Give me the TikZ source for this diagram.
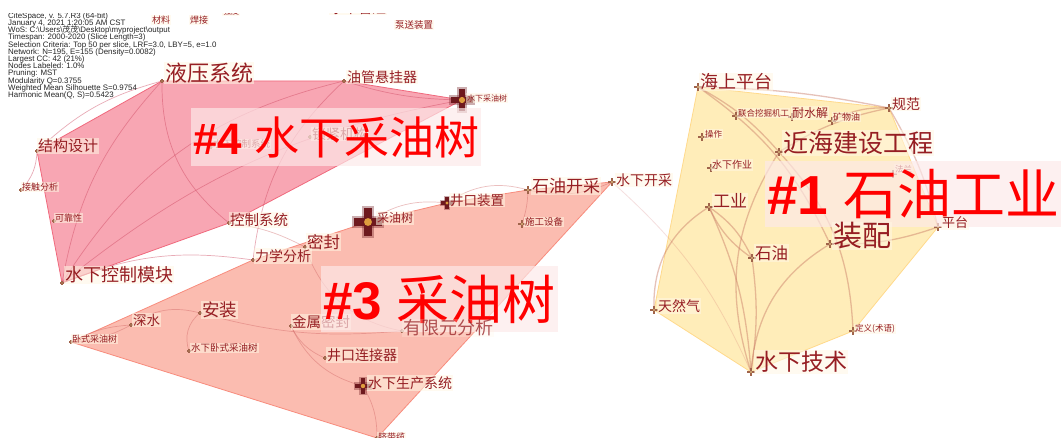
\documentclass[tikz,border=0pt]{standalone}
\usepackage{fontspec}
\setmainfont{Liberation Sans}
\newfontfamily\cjk{Noto Sans CJK SC}
\definecolor{cfourf}{RGB}{248,162,175}
\definecolor{cfourl}{RGB}{240,105,125}
\definecolor{cthreef}{RGB}{251,188,176}
\definecolor{cthreel}{RGB}{248,140,125}
\definecolor{conef}{RGB}{255,237,185}
\definecolor{conel}{RGB}{255,218,140}
\definecolor{efour}{RGB}{205,70,95}
\definecolor{ethree}{RGB}{205,95,95}
\definecolor{eone}{RGB}{200,120,100}
\definecolor{lblc}{RGB}{150,30,35}
\definecolor{lblbg}{RGB}{255,247,228}
\definecolor{clbg}{RGB}{253,233,233}
\definecolor{mkc}{RGB}{160,100,75}
\definecolor{mkin}{RGB}{240,215,140}
\definecolor{bigc}{RGB}{110,25,30}
\definecolor{bigin}{RGB}{250,190,70}
\tikzset{
  pics/nmk/.style={code={
    \fill[mkc] (-#1,-#1*0.32) rectangle (#1,#1*0.32);
    \fill[mkc] (-#1*0.32,-#1) rectangle (#1*0.32,#1);
    \fill[mkin] (0,0) circle (#1*0.22);
  }},
  pics/bigmk/.style={code={
    \fill[bigc, opacity=.35] (-#1*1.15,-#1*0.45) rectangle (#1*1.15,#1*0.45);
    \fill[bigc, opacity=.35] (-#1*0.45,-#1*1.15) rectangle (#1*0.45,#1*1.15);
    \fill[bigc] (-#1,-#1*0.3) rectangle (#1,#1*0.3);
    \fill[bigc] (-#1*0.3,-#1) rectangle (#1*0.3,#1);
    \fill[bigin, opacity=.8] (0,0) circle (#1*0.28);
  }}
}
\begin{document}
\begin{tikzpicture}[x=1pt,y=-1pt,
  lb/.style={anchor=west, text=lblc, inner sep=1pt, fill=lblbg, fill opacity=.55, text opacity=1, font={\cjk\fontsize{#1}{#1}\selectfont}},
  clb/.style={anchor=west, fill=clbg, fill opacity=.68, text opacity=1, text=red, inner xsep=2pt, inner ysep=#1},
  efour/.style={draw=efour, draw opacity=.45, line width=.7pt},
  ethree/.style={draw=ethree, draw opacity=.4, line width=.7pt},
  eone/.style={draw=eone, draw opacity=.45, line width=1.3pt},
  efaint/.style={draw=ethree, draw opacity=.2, line width=.8pt}]
\fill[white] (0,0) rectangle (1061,438);
\useasboundingbox (0,0) rectangle (1061,438);

% ---------- node positions ----------
% cluster 4
\coordinate (hy) at (162,81);
\coordinate (yg) at (344,81);
\coordinate (sxcys) at (462,100);
\coordinate (jg) at (37,151);
\coordinate (jc) at (21,190);
\coordinate (kk) at (54,221);
\coordinate (skm) at (62,283);
\coordinate (sj) at (310,137);
\coordinate (skx) at (211,147);
\coordinate (kz) at (229,223);
% cluster 3
\coordinate (cys) at (368,222);
\coordinate (jk) at (447,203);
\coordinate (syk) at (528,190);
\coordinate (sxk) at (612,182);
\coordinate (sg) at (522,224);
\coordinate (mf) at (305,247);
\coordinate (lx) at (253,260);
\coordinate (ss) at (131,325);
\coordinate (az) at (200,313);
\coordinate (ws) at (71,342);
\coordinate (sxw) at (189,351);
\coordinate (js) at (291,326);
\coordinate (yx) at (402,331);
\coordinate (jklj) at (325,358);
\coordinate (sc) at (363,386);
\coordinate (qdl) at (377,438);
% cluster 1
\coordinate (hs) at (698,87);
\coordinate (lh) at (736,116);
\coordinate (ns) at (792,117);
\coordinate (kw) at (832,121);
\coordinate (gf) at (889,108);
\coordinate (cz) at (702,137);
\coordinate (jh) at (779,152);
\coordinate (sz) at (711,168);
\coordinate (gy) at (709,207);
\coordinate (zp) at (830,244);
\coordinate (sy) at (752,258);
\coordinate (tr) at (654,310);
\coordinate (dy) at (853,331);
\coordinate (sjs) at (751,372);
\coordinate (pt) at (938,227);
\coordinate (fl) at (893,174);

% ---------- cluster hulls ----------
\filldraw[fill=conef, draw=conel, line width=.8pt, line join=round] (hs) -- (gf) -- (pt) -- (dy) -- (sjs) -- (tr) -- cycle;
\filldraw[fill=cthreef, draw=cthreel, line width=.8pt, line join=round] (ws) -- (lx) -- (cys) -- (jk) -- (syk) -- (sxk) -- (qdl) -- cycle;
\filldraw[fill=cfourf, draw=cfourl, line width=.8pt, line join=round, fill opacity=.95] (hy) -- (yg) -- (sxcys) -- (kz) -- (skm) -- (jg) -- cycle;

% ---------- links ----------
\draw[efour] (skm) to[bend left=16] (hy);
\draw[efour] (skm) to[bend left=22] (yg);
\draw[efour] (skm) to[bend left=14] (sxcys);
\draw[efour] (skm) to[bend left=15] (lx);
\draw[efour] (hy) to[bend right=26] (kz);
\draw[efour] (jg) to[bend left=14] (hy);
\draw[efour] (jg) to[bend left=20] (jc);
\draw[efour] (yg) to[bend right=8] (sxcys);
\draw[efour] (yg) to[bend right=20] (lx);

\draw[ethree] (cys) to[bend left=20] (jk);
\draw[ethree] (jk) to[bend left=25] (syk);
\draw[ethree] (syk) to[bend right=18] (sxk);
\draw[ethree] (syk) to[bend left=8] (sg);
\draw[efaint] (sxk) to[bend left=12] (sjs);
\draw[ethree] (kz) to[bend left=10] (mf);
\draw[ethree] (mf) to[bend right=30] (yx);
\draw[ethree] (az) to[bend right=25] (ss);
\draw[ethree] (ss) to[bend left=12] (ws);
\draw[ethree] (ss) to[bend right=12] (ws);
\draw[ethree] (az) to[bend right=35] (sxw);
\draw[ethree] (az) to[bend right=10] (yx);
\draw[ethree] (js) to[bend right=20] (jklj);
\draw[ethree] (js) to[bend right=25] (sc);
\draw[ethree] (sc) to[bend left=15] (qdl);

\draw[eone] (hs) to[bend left=5] (gf);
\draw[eone] (hs) to[bend left=15] (zp);
\draw[eone] (hs) to[bend left=10] (jh);
\draw[eone] (gf) to[bend right=15] (kw);
\draw[eone] (gf) to[bend right=10] (jh);
\draw[eone] (gf) to[bend left=8] (pt);
\draw[eone] (jh) to[bend right=25] (sjs);
\draw[eone] (jh) to[bend left=20] (dy);
\draw[eone] (zp) to[bend right=27] (sjs);
\draw[eone] (gy) to[bend left=15] (sy);
\draw[eone] (gy) to[bend right=15] (sy);
\draw[eone] (gy) to[bend left=10] (sjs);
\draw[eone] (sy) to[bend left=8] (sjs);
\draw[eone] (gy) to[bend right=30] (tr);
\draw[eone] (pt) to[bend left=10] (zp);

% ---------- markers ----------
\foreach \p in {hy,yg,jg,jc,kk,skm,sj,skx,kz,mf,lx,ss,az,ws,sxw,js,yx,jklj,qdl}
  \pic at (\p) {nmk=1.6};
\foreach \p in {syk,sxk,sg,hs,lh,ns,kw,gf,cz,jh,sz,gy,zp,sy,tr,dy,sjs,pt,fl}
  \pic at (\p) {nmk=3.6};
\pic at (jk) {bigmk=6};
\pic at (sc) {bigmk=8};
\pic at (sxcys) {bigmk=11};
\pic at (cys) {bigmk=14};

% ---------- top (cut) texts ----------
\node[lb=9] (clL) at (151,20) {材料};
\node[lb=9] (hjL) at (189,20) {焊接};
\node[lb=8] (qdL) at (222,11) {强度};
\node[lb=14] (cutL) at (329,8) {水下管汇};
\node[lb=9.5] (bsL) at (394,25) {泵送装置};
\node[anchor=north west, inner sep=0, align=left, text=black!85, font={\fontsize{7.9}{7.23}\selectfont\lineskiplimit=-20pt\lineskip=0pt}] (info) at (8,12.2)
 {CiteSpace, v. 5.7.R3 (64-bit)\\
  January 4, 2021 1:20:05 AM CST\\
  WoS: C:\textbackslash Users\textbackslash{\cjk 茂茂}\textbackslash Desktop\textbackslash myproject\textbackslash output\\
  Timespan: 2000-2020 (Slice Length=3)\\
  Selection Criteria: Top 50 per slice, LRF=3.0, LBY=5, e=1.0\\
  Network: N=195, E=155 (Density=0.0082)\\
  Largest CC: 42 (21\%)\\
  Nodes Labeled: 1.0\%\\
  Pruning: MST\\
  Modularity Q=0.3755\\
  Weighted Mean Silhouette S=0.9754\\
  Harmonic Mean(Q, S)=0.5423};
\fill[white] (0,0) rectangle (1061,12.8);

% ---------- labels: cluster 4 ----------
\node[lb=22] (hyL) at (164,73) {液压系统};
\node[lb=14] (ygL) at (346,77) {油管悬挂器};
\node[lb=8] (sxcysL) at (466,98) {水下采油树};
\node[lb=15] (jgL) at (37,146) {结构设计};
\node[lb=9] (jcL) at (21,187) {接触分析};
\node[lb=9] (kkL) at (54,218) {可靠性};
\node[lb=18] (skmL) at (64,275) {水下控制模块};
\node[lb=14] (sjL) at (311,134) {锁紧机构};
\node[lb=9.5] (skxL) at (212,144) {水下控制系统};
\node[lb=14.5] (kzL) at (229,220) {控制系统};
% ---------- labels: cluster 3 ----------
\node[lb=12] (cysL) at (376,218) {采油树};
\node[lb=13.5] (jkL) at (449,200) {井口装置};
\node[lb=17] (sykL) at (531,186) {石油开采};
\node[lb=14] (sxkL) at (615,180) {水下开采};
\node[lb=9.5] (sgL) at (524,222) {施工设备};
\node[lb=16.5] (mfL) at (306,242) {密封};
\node[lb=14] (lxL) at (254,256) {力学分析};
\node[lb=13.5] (ssL) at (132,320) {深水};
\node[lb=17.5] (azL) at (201,310) {安装};
\node[lb=9] (wsL) at (71,339) {卧式采油树};
\node[lb=9.5] (sxwL) at (190,348) {水下卧式采油树};
\node[lb=14.5] (jsL) at (291,322) {金属密封};
\node[lb=14] (jkljL) at (326,355) {井口连接器};
\node[lb=14] (scL) at (367,383) {水下生产系统};
\node[lb=9] (qdlL) at (377,437) {脐带缆};
% ---------- labels: cluster 1 ----------
\node[lb=18] (hsL) at (699,82) {海上平台};
\node[lb=8.5] (lhL) at (737,113) {联合挖掘机工};
\node[lb=12] (nsL) at (791,113) {耐水解};
\node[lb=9] (kwL) at (832,117) {矿物油};
\node[lb=14] (gfL) at (891,104) {规范};
\node[lb=8.5] (czL) at (704,134) {操作};
\node[lb=25] (jhL) at (782,143) {近海建设工程};
\node[lb=10] (szL) at (711,165) {水下作业};
\node[lb=17] (gyL) at (712,201) {工业};
\node[lb=16.5] (syL) at (754,253) {石油};
\node[lb=14] (trL) at (657,306) {天然气};
\node[lb=8.5] (dyL) at (854,329) {定义(术语)};
\node[lb=23] (sjsL) at (754,362) {水下技术};
\node[lb=8.5] (flL) at (894,169) {法兰};

% ---------- cluster labels ----------
\node[clb=8pt] (cfour) at (191,137)
 {\fontsize{44}{44}\selectfont\bfseries\#4 {\cjk\mdseries\fontsize{45}{45}\selectfont 水下采油树}};
\node[clb=8.5pt] (cthree) at (321,299)
 {\fontsize{53}{53}\selectfont\bfseries\#3 {\cjk\mdseries\fontsize{53}{53}\selectfont 采油树}};
\node[clb=8pt] (cone) at (765,194)
 {\fontsize{55}{55}\selectfont\bfseries\#1 {\cjk\mdseries\fontsize{54}{54}\selectfont 石油工业}};

% labels that stay readable over the cluster-label boxes
\node[lb=18, text opacity=.75, fill opacity=.25] (yxL) at (402,328) {有限元分析};
\node[lb=29] (zpL) at (832,236) {装配};
\node[lb=13] (ptL) at (941,223) {平台};
\end{tikzpicture}
\end{document}
